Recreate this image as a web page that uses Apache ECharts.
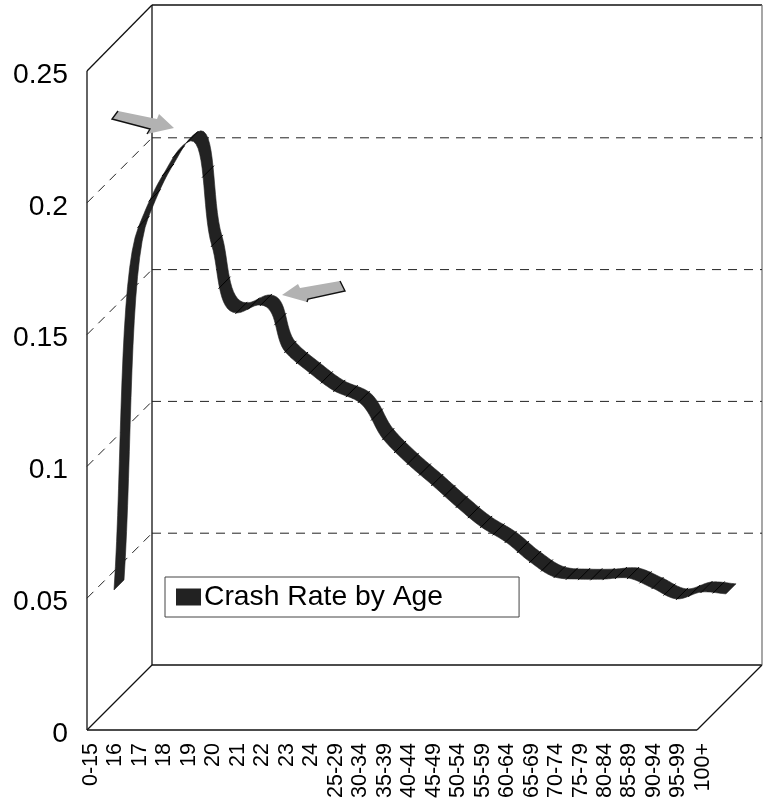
<!DOCTYPE html>
<html>
<head>
<meta charset="utf-8">
<title>Crash Rate by Age</title>
<style>
  html, body { margin: 0; padding: 0; background: #fff; }
  #main { width: 765px; height: 802px; }
</style>
<script src="https://cdn.jsdelivr.net/npm/echarts@6/dist/echarts.min.js"></script>
</head>
<body>
<div id="main"></div>
<script>
const ageGroups = ['0-15', '16', '17', '18', '19', '20', '21', '22', '23', '24', '25-29', '30-34', '35-39',
  '40-44', '45-49', '50-54', '55-59', '60-64', '65-69', '70-74', '75-79', '80-84', '85-89', '90-94', '95-99', '100+'];
const crashRate = [0.0429, 0.1806, 0.2003, 0.2128, 0.1734, 0.148, 0.151, 0.1332, 0.1252, 0.1184, 0.1142, 0.1001, 0.0907,
  0.0827, 0.0744, 0.0668, 0.0611, 0.0535, 0.0478, 0.047, 0.047, 0.0474, 0.0436, 0.0395, 0.0421, 0.0414];
const gridValues = [0.05, 0.1, 0.15, 0.2];

const FONT = '"Liberation Sans", Arial, sans-serif';
const DEPTH = 65;         // wall depth, front plane to back wall
const RIBBON_X = 23;      // ribbon front edge relative to the category position
const RIBBON_Y = -27;
const RIBBON_W = 10;      // ribbon width along the depth diagonal

const chart = echarts.init(document.getElementById('main'), null, { renderer: 'canvas' });

// front edge of the ribbon in pixels
function ribbonPoint(api, i) {
  const p = api.coord([i, crashRate[i]]);
  return [p[0] + RIBBON_X, p[1] + RIBBON_Y];
}

function dist(a, b) {
  return Math.hypot(a[0] - b[0], a[1] - b[1]);
}

// unit tangent at p, the shorter neighbouring chord counts more
function tangent(prev, p, next) {
  const d0 = dist(prev, p);
  const d1 = dist(p, next);
  if (!d0 || !d1) {
    const d = dist(prev, next) || 1;
    return [(next[0] - prev[0]) / d, (next[1] - prev[1]) / d];
  }
  const x = d1 * (p[0] - prev[0]) / d0 + d0 * (next[0] - p[0]) / d1;
  const y = d1 * (p[1] - prev[1]) / d0 + d0 * (next[1] - p[1]) / d1;
  const d = Math.hypot(x, y) || 1;
  return [x / d, y / d];
}

// bezier handle, kept inside the segment's horizontal span
function handle(p, t, len, span, sign) {
  let h = len / 3;
  if (Math.abs(t[0]) * h > span * 0.8) h = span * 0.8 / Math.abs(t[0]);
  return [p[0] + sign * t[0] * h, p[1] + sign * t[1] * h];
}

function renderSegment(params, api) {
  const i = params.dataIndex;
  if (i >= crashRate.length - 1) return null;
  const p1 = ribbonPoint(api, i);
  const p2 = ribbonPoint(api, i + 1);
  const p0 = i > 0 ? ribbonPoint(api, i - 1) : p1;
  const p3 = i < crashRate.length - 2 ? ribbonPoint(api, i + 2) : p2;
  const len = dist(p1, p2);
  const span = p2[0] - p1[0];
  const c1 = handle(p1, tangent(p0, p1, p2), len, span, 1);
  const c2 = handle(p2, tangent(p1, p2, p3), len, span, -1);

  const at = (t) => {
    const u = 1 - t;
    return [
      u * u * u * p1[0] + 3 * u * u * t * c1[0] + 3 * u * t * t * c2[0] + t * t * t * p2[0],
      u * u * u * p1[1] + 3 * u * u * t * c1[1] + 3 * u * t * t * c2[1] + t * t * t * p2[1]
    ];
  };

  const front = [];
  for (let k = 0; k <= 16; k++) front.push(at(k / 16));
  const back = front.map((p) => [p[0] + RIBBON_W, p[1] - RIBBON_W]).reverse();

  const children = [{
    type: 'polygon',
    shape: { points: front.concat(back) },
    style: { fill: '#222222', stroke: '#222222', lineWidth: 0.6 }
  }];
  (i === 0 ? [] : [0, 0.5]).forEach((t) => {
    const p = at(t);
    children.push({
      type: 'line',
      shape: { x1: p[0] - 1, y1: p[1] + 1, x2: p[0] + RIBBON_W + 1, y2: p[1] - RIBBON_W - 1 },
      style: { stroke: '#000000', lineWidth: 1 }
    });
  });
  return { type: 'group', children: children };
}

function renderGridLine(params, api) {
  const y = api.coord([0, api.value(1)])[1];
  const style = { stroke: '#222222', lineWidth: 1, lineDash: [9, 7] };
  return {
    type: 'group',
    children: [
      { type: 'line', shape: { x1: 87, y1: y, x2: 152, y2: y - DEPTH }, style: style },
      { type: 'line', shape: { x1: 152, y1: y - DEPTH, x2: 762, y2: y - DEPTH }, style: style }
    ]
  };
}

function wallLine(x1, y1, x2, y2, color) {
  return { type: 'line', z: 0, shape: { x1, y1, x2, y2 }, style: { stroke: color || '#111111', lineWidth: 1.3 } };
}

function arrow(body, edge) {
  return [
    { type: 'polygon', z: 5, shape: { points: body }, style: { fill: '#b2b2b2' } },
    { type: 'polyline', z: 5, shape: { points: edge }, style: { stroke: '#111111', lineWidth: 1.4, fill: null } }
  ];
}

const option = {
  backgroundColor: '#ffffff',
  animation: false,
  textStyle: { fontFamily: FONT },
  grid: { left: 91, top: 71, width: 612, height: 659 },
  xAxis: {
    type: 'category',
    boundaryGap: false,
    data: ageGroups,
    axisLine: { show: false },
    axisTick: { show: false },
    axisLabel: { interval: 0, rotate: 90, margin: 13, fontSize: 21.5, color: '#000000', fontFamily: FONT }
  },
  yAxis: {
    type: 'value',
    min: 0,
    max: 0.25,
    interval: 0.05,
    axisLine: { show: false },
    axisTick: { show: false },
    splitLine: { show: false },
    axisLabel: { margin: 23, fontSize: 28.3, color: '#000000', fontFamily: FONT, verticalAlign: 'top', lineHeight: 8 }
  },
  legend: {
    data: ['Crash Rate by Age'],
    left: 165,
    top: 577,
    orient: 'horizontal',
    icon: 'rect',
    itemWidth: 25,
    itemHeight: 17,
    itemGap: 0,
    padding: [6, 76, 6, 11],
    backgroundColor: '#ffffff',
    borderColor: '#444444',
    borderWidth: 1,
    selectedMode: false,
    textStyle: { fontSize: 28.3, color: '#000000', fontFamily: FONT, padding: [2, 0, 0, -2] }
  },
  graphic: [
    wallLine(87, 71, 87, 730),
    wallLine(87, 71, 152, 5),
    wallLine(87, 730, 152, 665),
    wallLine(152, 5, 152, 665),
    wallLine(152, 5, 762, 5),
    wallLine(152, 665, 762, 665),
    wallLine(762, 5, 762, 665, '#777777'),
    wallLine(87, 730, 697, 730),
    wallLine(697, 730, 762, 665)
  ].concat(
    arrow([[118, 111], [157, 119], [159, 114], [174, 128], [147, 134], [150, 129], [112, 119]],
      [[118, 111], [112, 119], [150, 129], [147, 134]]),
    arrow([[282, 295], [298, 284], [300, 288], [340, 281], [345, 291], [308, 299], [307, 302]],
      [[340, 281], [345, 291], [308, 299], [307, 302]])
  ),
  series: [
    {
      name: 'grid lines',
      type: 'custom',
      coordinateSystem: 'cartesian2d',
      clip: false,
      silent: true,
      z: 1,
      data: gridValues.map((v) => [0, v]),
      renderItem: renderGridLine
    },
    {
      name: 'Crash Rate by Age',
      type: 'custom',
      coordinateSystem: 'cartesian2d',
      clip: false,
      silent: true,
      z: 3,
      itemStyle: { color: '#222222' },
      data: crashRate.map((v, i) => [i, v]),
      renderItem: renderSegment
    }
  ]
};

chart.setOption(option);
</script>
</body>
</html>
